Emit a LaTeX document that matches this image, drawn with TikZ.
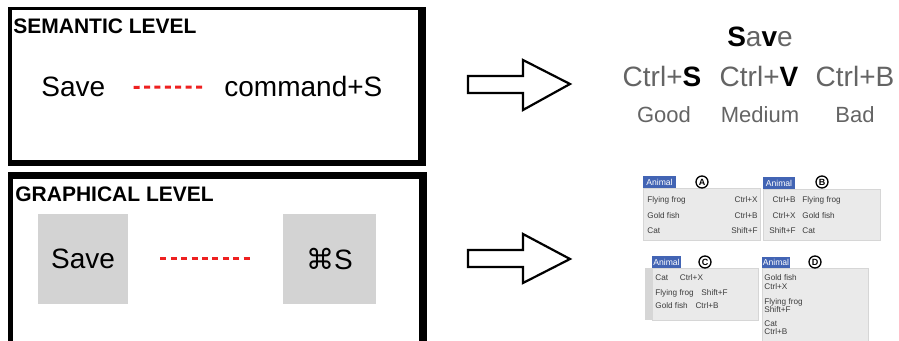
\documentclass[tikz,border=0pt]{standalone}
\usepackage{fontspec}
\setmainfont{Liberation Sans}
\newfontfamily\symfont{DejaVu Sans}
\usetikzlibrary{positioning}

\definecolor{keygray}{RGB}{211,211,211}
\definecolor{linkred}{RGB}{238,32,32}
\definecolor{softgray}{RGB}{100,100,100}
\definecolor{menublue}{RGB}{66,100,180}
\definecolor{menugray}{RGB}{234,234,234}
\definecolor{menuline}{RGB}{214,214,214}
\definecolor{itemgray}{RGB}{60,60,60}

\tikzset{
  levelhead/.style={anchor=base west, inner sep=0pt, font=\bfseries\fontsize{10.5}{12}\selectfont},
  bigword/.style={anchor=base west, inner sep=0pt, font=\fontsize{14}{16}\selectfont},
  keybox/.style={fill=keygray, inner sep=0pt, minimum height=45pt, font=\fontsize{14}{16}\selectfont},
  linkline/.style={draw=linkred, line width=1.5pt, dash pattern=on 3pt off 2.2pt},
  blockarrow/.style={draw, line width=1.1pt, fill=white, line join=miter},
  shortcut/.style={anchor=base, inner sep=0pt, text=softgray, font=\fontsize{14}{16}\selectfont},
  rating/.style={anchor=base, inner sep=0pt, text=softgray, font=\fontsize{11}{13}\selectfont},
  menuhead/.style={fill=menublue, text=white, inner sep=0pt, minimum height=6pt, font=\fontsize{4.3}{5}\selectfont},
  menubody/.style={fill=menugray, draw=menuline, line width=0.3pt},
  menuitem/.style={anchor=base west, inner sep=0pt, text=itemgray, font=\fontsize{4.1}{5}\selectfont},
  menukey/.style={anchor=base east, inner sep=0pt, text=itemgray, font=\fontsize{4.1}{5}\selectfont},
  badge/.style={circle, draw, fill=white, line width=0.65pt, inner sep=0pt, minimum size=6pt, font=\bfseries\fontsize{4.5}{5}\selectfont}
}

\begin{document}
\begin{tikzpicture}[x=0.5pt, y=-0.5pt]
\useasboundingbox (0,0) rectangle (899,341);

% semantic level
\fill[black] (8,7) rectangle (426,166);
\fill[white] (12,10) rectangle (418,160);
\node[levelhead] (semhead) at (13,34) {SEMANTIC LEVEL};
\node[bigword] (save1) at (41,97) {Save};
\node[bigword] (cmd1) at (224,97) {command+S};
\draw[linkline, shorten <=14pt, shorten >=10pt] (save1) -- (cmd1);

% graphical level
\fill[black] (8,172) rectangle (427,341);
\fill[white] (13,179) rectangle (419,341);
\node[levelhead] (grahead) at (15,202) {GRAPHICAL LEVEL};
\node[keybox, minimum width=45pt] (save2) at (83,259) {Save};
\node[keybox, minimum width=46.5pt] (cmd2) at (329.5,259) {{\symfont ⌘}S};
\draw[linkline, shorten <=16pt, shorten >=15pt] (save2) -- (cmd2);

% block arrows
\draw[blockarrow] (468,76) -- (523,76) -- (523,60) -- (570,84) -- (523,110) -- (523,93) -- (468,93) -- cycle;
\draw[blockarrow] (468,250) -- (523,250) -- (523,234) -- (570,259) -- (523,283) -- (523,267) -- (468,267) -- cycle;

% shortcut quality
\node[shortcut] (saveword) at (760,47) {\textcolor{black}{\bfseries S}a\textcolor{black}{\bfseries v}e};
\node[shortcut] (ctrlS) at (662,87) {Ctrl+\textcolor{black}{\bfseries S}};
\node[shortcut] (ctrlV) at (759,87) {Ctrl+\textcolor{black}{\bfseries V}};
\node[shortcut] (ctrlB) at (855,87) {Ctrl+B};
\node[rating] (good) at (664,123) {Good};
\node[rating] (medium) at (760,123) {Medium};
\node[rating] (bad) at (855,123) {Bad};

% menu A
\begin{scope}[shift={(643,176)}]
\draw[menubody] (0,12) rectangle (117,64);
\node[menuhead, minimum width=16.5pt] (headA) at (16.5,6) {Animal};
\node[menuitem] (a1) at (4,27) {Flying frog};
\node[menuitem] (a2) at (4,43) {Gold fish};
\node[menuitem] (a3) at (4,58) {Cat};
\node[menukey] (a1k) at (115,27) {Ctrl+X};
\node[menukey] (a2k) at (115,43) {Ctrl+B};
\node[menukey] (a3k) at (115,58) {Shift+F};
\node[badge] (badgeA) at (59,6) {A};
\end{scope}

% menu B
\begin{scope}[shift={(763,177)}]
\draw[menubody] (0,12) rectangle (117,63);
\node[menuhead, minimum width=16pt] (headB) at (16,6) {Animal};
\node[menukey] (b1k) at (33,26) {Ctrl+B};
\node[menukey] (b2k) at (33,42) {Ctrl+X};
\node[menukey] (b3k) at (33,57) {Shift+F};
\node[menuitem] (b1) at (39,26) {Flying frog};
\node[menuitem] (b2) at (39,42) {Gold fish};
\node[menuitem] (b3) at (39,57) {Cat};
\node[badge] (badgeB) at (59,5) {B};
\end{scope}

% menu C
\begin{scope}[shift={(652,256)}]
\fill[menuline] (-7,12) rectangle (0,64);
\draw[menubody] (0,12) rectangle (106,64);
\node[menuhead, minimum width=14.5pt] (headC) at (14.5,6) {Animal};
\node[menuitem] (c1) at (3,25) {Cat};
\node[menuitem] (c2) at (3,40) {Flying frog};
\node[menuitem] (c3) at (3,53) {Gold fish};
\node[menuitem, base right=5.5pt of c1] (c1k) {Ctrl+X};
\node[menuitem, base right=3.5pt of c2] (c2k) {Shift+F};
\node[menuitem, base right=3.5pt of c3] (c3k) {Ctrl+B};
\node[badge] (badgeC) at (53,6) {C};
\end{scope}

% menu D
\begin{scope}[shift={(762,257)}]
\draw[menubody] (0,11) rectangle (106,86);
\node[menuhead, minimum width=14pt, minimum height=5.5pt] (headD) at (14,5.5) {Animal};
\node[menuitem] (d1) at (2,24) {Gold fish};
\node[menuitem] (d1k) at (2,33) {Ctrl+X};
\node[menuitem] (d2) at (2,48) {Flying frog};
\node[menuitem] (d2k) at (2,56) {Shift+F};
\node[menuitem] (d3) at (2,70) {Cat};
\node[menuitem] (d3k) at (2,78) {Ctrl+B};
\node[badge] (badgeD) at (53,5) {D};
\end{scope}
\end{tikzpicture}
\end{document}
